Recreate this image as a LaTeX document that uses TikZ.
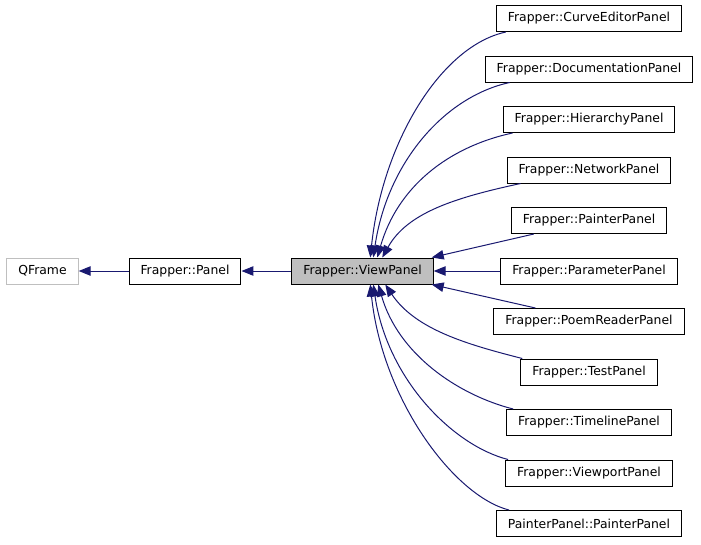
\documentclass[tikz,border=0pt]{standalone}
\usepackage{fontspec}
\setmainfont{DejaVu Sans}
\usetikzlibrary{arrows.meta}
\definecolor{edgeblue}{HTML}{191970}
\definecolor{boxgray}{HTML}{BFBFBF}
\tikzset{
  cls/.style={draw=black,fill=white,minimum height=26pt,inner xsep=11.5pt,inner ysep=0pt,
    font=\fontsize{12.4}{14}\selectfont,line width=1pt},
  ext/.style={cls,draw=boxgray},
  cur/.style={cls,fill=boxgray},
  edge/.style={draw=edgeblue,line width=1pt,-{Triangle[length=12pt,width=9.5pt]}},
}

\begin{document}
\begin{tikzpicture}[x=1pt,y=-1pt]
  \useasboundingbox (0,0) rectangle (701,544);
  %% base classes
  \node[ext] (qf) at (42.5,271) {QFrame};
  \node[cls] (pn) at (185,271) {Frapper::Panel};
  \node[cur] (vp) at (362.5,271) {Frapper::ViewPanel};
  %% derived classes
  \foreach \t [count=\i] in {Frapper::CurveEditorPanel,Frapper::DocumentationPanel,
      Frapper::HierarchyPanel,Frapper::NetworkPanel,Frapper::PainterPanel,
      Frapper::ParameterPanel,Frapper::PoemReaderPanel,Frapper::TestPanel,
      Frapper::TimelinePanel,Frapper::ViewportPanel,PainterPanel::PainterPanel}
    \node[cls] (c\i) at (589,{18.5+50.5*(\i-1)}) {\t};
  %% inheritance
  \draw[edge] (pn) -- (qf);
  \draw[edge] (vp) -- (pn);
  \draw[edge] (c6) -- (vp);
  \draw[edge] ([xshift=23pt]c5.south west) -- ([xshift=-2pt]vp.north east);
  \draw[edge] ([xshift=42pt]c7.north west) -- ([xshift=-2pt]vp.south east);
  \foreach \i/\s/\e/\a/\b in {1/10/79/12/-115,2/25/82/14/-95,3/10/86/20/-70,4/14/91/25/-45}
    \draw[edge] ([xshift=\s pt]c\i.south west) .. controls +(-65,14) and +(\a,\b) .. ([xshift=\e pt]vp.north west);
  \foreach \i/\s/\e/\a/\b in {8/2/94/30/45,9/7/87/20/70,10/3/82/14/95,11/13/79/12/115}
    \draw[edge] ([xshift=\s pt]c\i.north west) .. controls +(-55,-14) and +(\a,\b) .. ([xshift=\e pt]vp.south west);
\end{tikzpicture}
\end{document}
